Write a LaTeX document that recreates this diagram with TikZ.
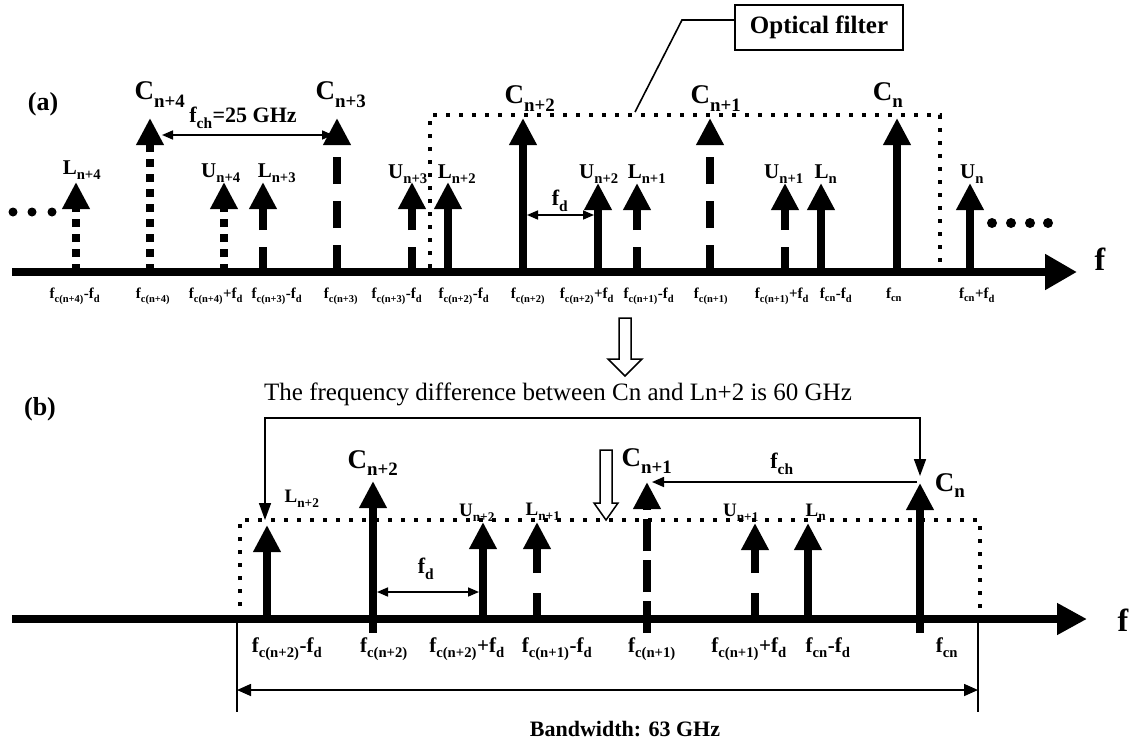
\documentclass[tikz,border=0pt]{standalone}
\usepackage{fontspec}
\setmainfont{Liberation Serif}
\usetikzlibrary{arrows.meta}
\newcommand{\sbs}[1]{\raisebox{-0.12em}{\textsubscript{#1}}}
\newcommand{\fsub}[1]{f\sbs{#1}}
\newcommand{\specline}[5]{\coordinate (#1b) at (#2,#3); \coordinate (#1t) at (#2,#4); \draw[spec,#5] (#1b) -- (#1t);}
\begin{document}
\begin{tikzpicture}[x=1pt,y=-1pt,
  spec/.style={line width=8pt,-{Triangle[width=26pt,length=27pt]}},
  dots/.style={dash pattern=on 8pt off 7pt},
  dashA/.style={dash pattern=on 25pt off 17pt},
  dashC/.style={dash pattern=on 27pt off 17pt},
  dashB/.style={dash pattern=on 26pt off 20pt},
  dashD/.style={dash pattern=on 32pt off 9pt},
  filt/.style={line width=4pt,dash pattern=on 4pt off 9pt},
  bigl/.style={font=\fontsize{27}{30}\selectfont\bfseries,inner sep=0pt,anchor=base},
  sml/.style={font=\fontsize{21}{24}\selectfont\bfseries,inner sep=0pt,anchor=base},
  smlb/.style={font=\fontsize{19}{22}\selectfont\bfseries,inner sep=0pt,anchor=base},
  tick/.style={font=\fontsize{15}{17}\selectfont\bfseries,inner sep=0pt,anchor=base},
  tickb/.style={font=\fontsize{21}{24}\selectfont\bfseries,inner sep=0pt,anchor=base},
  thin/.style={line width=1.6pt},
  dim/.style={thin,{Triangle[width=9pt,length=11pt]}-{Triangle[width=9pt,length=11pt]}},
  hollow/.style={line width=1.5pt,fill=white}]
\useasboundingbox (0,0) rectangle (1142,749);
% ---------------- panel (a)
\node[font=\fontsize{26}{30}\selectfont\bfseries,inner sep=0pt] (pa) at (43,104) {(a)};
\coordinate (a0) at (12,272); \coordinate (a1) at (1077,272);
\draw[line width=8pt,-{Triangle[width=34pt,length=32pt]}] (a0) -- (a1);
\node[font=\fontsize{32}{36}\selectfont\bfseries,inner sep=0pt] (fa) at (1100,259) {f};
\specline{L4}{76}{272}{182}{dots}
\specline{C4}{150}{272}{118}{dots}
\specline{U4}{224}{272}{182}{dots}
\specline{L3}{263}{272}{182}{dashA}
\specline{C3}{337}{272}{118}{dashC}
\specline{U3}{412}{272}{182}{dashA}
\specline{L2}{448}{272}{182}{}
\specline{C2}{523}{272}{118}{}
\specline{U2}{598}{272}{183}{}
\specline{L1}{637}{272}{183}{dashA}
\specline{C1}{710}{272}{118}{dashC}
\specline{U1}{785}{272}{183}{dashA}
\specline{Ln}{821}{272}{183}{}
\specline{Cn}{897}{272}{118}{}
\specline{Un}{970}{272}{183}{}
% filter
\coordinate (fa1) at (430,268); \coordinate (fa2) at (430,115);
\coordinate (fa3) at (940,115); \coordinate (fa4) at (940,268);
\draw[filt] (fa1) -- (fa2) -- (fa3) -- (fa4);
\node[draw,line width=1.5pt,minimum width=168pt,minimum height=45pt,inner sep=0pt,
      font=\fontsize{25}{28}\selectfont\bfseries] (ofbox) at (819,27.5) {Optical filter};
\coordinate (ldA) at (635,112); \coordinate (ldB) at (682,20);
\draw[thin] (ldA) -- (ldB) -- (ofbox.west |- ldB);
% dots
\foreach \x in {13,32,52} \fill (\x,212) circle (4.5pt);
\foreach \x in {992,1011,1030,1048} \fill (\x,223) circle (5pt);
% labels
\node[sml] (lL4) at (82,174) {L\sbs{n+4}};
\node[bigl] (lC4) at (160,100) {C\sbs{n+4}};
\node[sml] (lU4) at (221,177) {U\sbs{n+4}};
\node[sml] (lL3) at (277,177) {L\sbs{n+3}};
\node[bigl] (lC3) at (341,100) {C\sbs{n+3}};
\node[sml] (lU3) at (408,178) {U\sbs{n+3}};
\node[sml] (lL2) at (457,178) {L\sbs{n+2}};
\node[bigl] (lC2) at (530,104) {C\sbs{n+2}};
\node[sml] (lU2) at (599,178) {U\sbs{n+2}};
\node[sml] (lL1) at (647,178) {L\sbs{n+1}};
\node[bigl] (lC1) at (716,104) {C\sbs{n+1}};
\node[sml] (lU1) at (784,178) {U\sbs{n+1}};
\node[sml] (lLn) at (826,178) {L\sbs{n}};
\node[bigl] (lCn) at (888,101) {C\sbs{n}};
\node[sml] (lUn) at (972,178) {U\sbs{n}};
% spacing arrows
\coordinate (fch1) at (162,135); \coordinate (fch2) at (333,135);
\draw[dim] (fch1) -- (fch2);
\node[sml,font=\fontsize{22}{24}\selectfont\bfseries] (lfch) at (243,122) {\fsub{ch}=25 GHz};
\coordinate (fd1) at (527,215); \coordinate (fd2) at (594,215);
\draw[dim] (fd1) -- (fd2);
\node[sml,font=\fontsize{22}{24}\selectfont\bfseries] (lfd) at (560,205) {\fsub{d}};
% tick labels
\node[tick] (t1) at (75,298) {\fsub{c(n+4)}-\fsub{d}};
\node[tick] (t2) at (153,298) {\fsub{c(n+4)}};
\node[tick] (t3) at (216,298) {\fsub{c(n+4)}+\fsub{d}};
\node[tick] (t4) at (277,298) {\fsub{c(n+3)}-\fsub{d}};
\node[tick] (t5) at (341,298) {\fsub{c(n+3)}};
\node[tick] (t6) at (397,298) {\fsub{c(n+3)}-\fsub{d}};
\node[tick] (t7) at (464,298) {\fsub{c(n+2)}-\fsub{d}};
\node[tick] (t8) at (528,298) {\fsub{c(n+2)}};
\node[tick] (t9) at (587,298) {\fsub{c(n+2)}+\fsub{d}};
\node[tick] (t10) at (649,298) {\fsub{c(n+1)}-\fsub{d}};
\node[tick] (t11) at (711,298) {\fsub{c(n+1)}};
\node[tick] (t12) at (782,298) {\fsub{c(n+1)}+\fsub{d}};
\node[tick] (t13) at (836,298) {\fsub{cn}-\fsub{d}};
\node[tick] (t14) at (894,298) {\fsub{cn}};
\node[tick] (t15) at (977,298) {\fsub{cn}+\fsub{d}};
% hollow arrow between panels
\draw[hollow] (619,318) -- (631,318) -- (631,359) -- (642,359) -- (625,376) -- (608,359) -- (619,359) -- cycle;
% ---------------- panel (b)
\node[font=\fontsize{26}{30}\selectfont\bfseries,inner sep=0pt] (pb) at (40,409) {(b)};
\coordinate (b0) at (12,619); \coordinate (b1) at (1087,619);
\draw[line width=8pt,-{Triangle[width=30pt,length=30pt]}] (b0) -- (b1);
\node[font=\fontsize{32}{36}\selectfont\bfseries,inner sep=0pt] (fb) at (1123,620) {f};
\specline{bL2}{267}{619}{525}{}
\specline{bC2}{373}{633}{481}{}
\specline{bU2}{483}{619}{522}{}
\specline{bL1}{537}{619}{522}{dashB}
\specline{bC1}{647}{633}{482}{dashD}
\specline{bU1}{755}{619}{523}{dashB}
\specline{bLn}{808}{619}{523}{}
\specline{bCn}{920}{633}{483}{}
% filter
\coordinate (fb1) at (240,619); \coordinate (fb2) at (240,520);
\coordinate (fb3) at (980,520); \coordinate (fb4) at (980,612);
\draw[filt] (fb1) -- (fb2) -- (fb3) -- (fb4);
% bracket
\coordinate (brA) at (265,520); \coordinate (brB) at (265,418);
\coordinate (brC) at (920,418); \coordinate (brD) at (920,476);
\draw[thin,{Triangle[width=12pt,length=17pt]}-{Triangle[width=12pt,length=17pt]}] (brA) -- (brB) -- (brC) -- (brD);
\node[font=\fontsize{25}{28}\selectfont,inner sep=0pt,anchor=base] (title) at (558,400) {The frequency difference between Cn and Ln+2 is 60 GHz};
% hollow arrow
\draw[hollow] (600,450) -- (612,450) -- (612,503) -- (618,503) -- (606,520) -- (594,503) -- (600,503) -- cycle;
% labels
\node[smlb] (blL2) at (302,502) {L\sbs{n+2}};
\node[bigl] (blC2) at (373,468) {C\sbs{n+2}};
\node[smlb] (blU2) at (477,516) {U\sbs{n+2}};
\node[smlb] (blL1) at (543,515) {L\sbs{n+1}};
\node[bigl] (blC1) at (647,466) {C\sbs{n+1}};
\node[smlb] (blU1) at (741,516) {U\sbs{n+1}};
\node[smlb] (blLn) at (816,516) {L\sbs{n}};
\node[bigl] (blCn) at (950,491) {C\sbs{n}};
% spacing arrows
\coordinate (bch1) at (917,482); \coordinate (bch2) at (652,482);
\draw[thin,-{Triangle[width=10pt,length=12pt]}] (bch1) -- (bch2);
\node[sml,font=\fontsize{22}{24}\selectfont\bfseries] (blfch) at (782,468) {\fsub{ch}};
\coordinate (bfd1) at (377,592); \coordinate (bfd2) at (479,592);
\draw[dim] (bfd1) -- (bfd2);
\node[sml,font=\fontsize{22}{24}\selectfont\bfseries] (blfd) at (426,573) {\fsub{d}};
% tick labels
\node[tickb] (bt1) at (287,652) {\fsub{c(n+2)}-\fsub{d}};
\node[tickb] (bt2) at (384,652) {\fsub{c(n+2)}};
\node[tickb] (bt3) at (467,652) {\fsub{c(n+2)}+\fsub{d}};
\node[tickb] (bt4) at (557,652) {\fsub{c(n+1)}-\fsub{d}};
\node[tickb] (bt5) at (652,652) {\fsub{c(n+1)}};
\node[tickb] (bt6) at (749,652) {\fsub{c(n+1)}+\fsub{d}};
\node[tickb] (bt7) at (828,652) {\fsub{cn}-\fsub{d}};
\node[tickb] (bt8) at (947,652) {\fsub{cn}};
% bandwidth
\coordinate (bw1) at (237,690); \coordinate (bw2) at (978,690);
\coordinate (bv1a) at (237,620); \coordinate (bv1b) at (237,712);
\coordinate (bv2a) at (978,620); \coordinate (bv2b) at (978,712);
\draw[thin] (bv1a) -- (bv1b);
\draw[thin] (bv2a) -- (bv2b);
\draw[thin,{Triangle[width=12pt,length=14pt]}-{Triangle[width=12pt,length=14pt]}] (bw1) -- (bw2);
\node[font=\fontsize{22}{26}\selectfont\bfseries,inner sep=0pt,anchor=base] (bwl) at (625,736) {Bandwidth: 63 GHz};
\end{tikzpicture}
\end{document}
